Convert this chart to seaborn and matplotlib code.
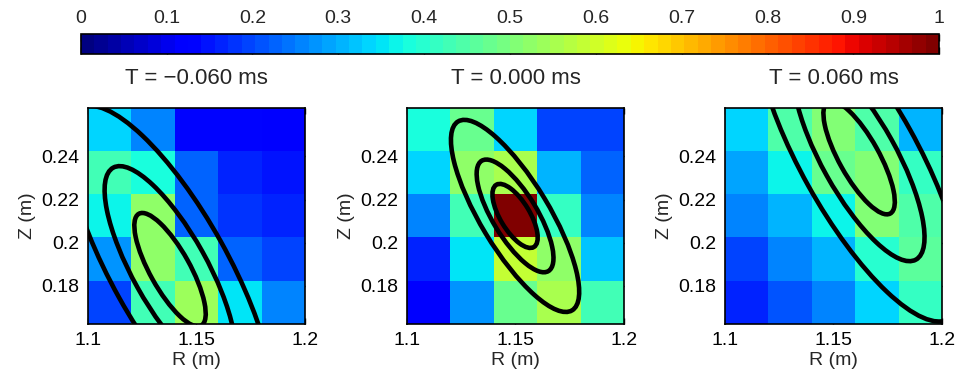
import numpy as np
import pandas as pd
import matplotlib
matplotlib.use("Agg")
import matplotlib.pyplot as plt
import seaborn as sns
from matplotlib.patches import Ellipse
from matplotlib.transforms import Affine2D

sns.set_style("white")
plt.rcParams["font.family"] = ["Liberation Sans", "DejaVu Sans"]

# ---------------- data ----------------
titles = ["T = \u22120.060 ms", "T = 0.000 ms", "T = 0.060 ms"]
R_centers = [1.11, 1.13, 1.15, 1.17, 1.19]            # cell centres (m)
Z_centers = [0.2525, 0.2325, 0.2125, 0.1925, 0.1725]  # top row first (m)
cell_size = 0.02
R_left = 1.10
Z_top = 0.2625

# normalised cell values, rows from top (high Z) to bottom
panel1 = [[0.33, 0.25, 0.14, 0.13, 0.11],
          [0.43, 0.38, 0.23, 0.16, 0.15],
          [0.37, 0.53, 0.23, 0.18, 0.16],
          [0.27, 0.53, 0.43, 0.22, 0.20],
          [0.19, 0.43, 0.54, 0.35, 0.26]]
panel2 = [[0.375, 0.47, 0.33, 0.20, 0.19],
          [0.33, 0.53, 0.56, 0.31, 0.23],
          [0.25, 0.43, 1.00, 0.41, 0.26],
          [0.17, 0.35, 0.58, 0.53, 0.32],
          [0.11, 0.28, 0.47, 0.55, 0.43]]
panel3 = [[0.34, 0.45, 0.50, 0.45, 0.31],
          [0.29, 0.37, 0.47, 0.51, 0.42],
          [0.25, 0.31, 0.37, 0.50, 0.45],
          [0.20, 0.25, 0.31, 0.40, 0.46],
          [0.16, 0.21, 0.25, 0.34, 0.41]]
panels = [panel1, panel2, panel3]

# fitted contour ellipses (centre, orientation, semi-axes per level)
ell_R = [1.1378, 1.1498, 1.1618]
ell_Z = [0.1875, 0.2124, 0.2394]
ell_angle = [-61, -59, -61]
ell_semi_major = [[0.0296, 0.0540, 0.0855],
                  [0.0168, 0.0298, 0.0510],
                  [0.0296, 0.0540, 0.0855]]
ell_semi_minor = [[0.0092, 0.0171, 0.0268],
                  [0.0068, 0.0103, 0.0158],
                  [0.0092, 0.0171, 0.0268]]

x_tick_vals = [1.1, 1.15, 1.2]
x_tick_labels = ["1.1", "1.15", "1.2"]
y_tick_vals = [0.18, 0.2, 0.22, 0.24]
y_tick_labels = ["0.18", "0.2", "0.22", "0.24"]
cb_ticks = [0, 0.1, 0.2, 0.3, 0.4, 0.5, 0.6, 0.7, 0.8, 0.9, 1]
cb_labels = ["0", "0.1", "0.2", "0.3", "0.4", "0.5", "0.6", "0.7", "0.8", "0.9", "1"]

# ---------------- figure ----------------
W, H = 957, 380
fig = plt.figure(figsize=(W / 100, H / 100), dpi=100)
cmap = matplotlib.colormaps["jet"].resampled(64)
FS = 14
FT = 16

def fx(px):
    return px / W

def fy(py):
    return 1 - py / H

ax_lefts = [88, 407, 725]
ax_w, ax_top, ax_bot = 217, 107.7, 323.7
cax = fig.add_axes([fx(80.7), fy(54), fx(858.6), 20 / H])

for i, vals in enumerate(panels):
    ax = fig.add_axes([fx(ax_lefts[i]), fy(ax_bot), fx(ax_w), (ax_bot - ax_top) / H])
    df = pd.DataFrame(vals, index=Z_centers, columns=R_centers)
    sns.heatmap(df, ax=ax, cmap=cmap, vmin=0, vmax=1, linewidths=0,
                cbar=(i == 0), cbar_ax=cax if i == 0 else None,
                cbar_kws=dict(orientation="horizontal", ticks=cb_ticks) if i == 0 else None,
                xticklabels=False, yticklabels=False)
    # physical (R, Z) -> heatmap cell coordinates
    to_cells = Affine2D().translate(-R_left, -Z_top).scale(1 / cell_size, -1 / cell_size)
    trans = to_cells + ax.transData
    for a, b in zip(ell_semi_major[i], ell_semi_minor[i]):
        e = Ellipse((ell_R[i], ell_Z[i]), 2 * a, 2 * b, angle=ell_angle[i],
                    transform=trans, fill=False, ec="black", lw=3.3)
        ax.add_patch(e)
    ax.set_xticks([(v - R_left) / cell_size for v in x_tick_vals])
    ax.set_xticklabels(x_tick_labels, fontsize=FS)
    ax.set_yticks([(Z_top - v) / cell_size for v in y_tick_vals])
    ax.set_yticklabels(y_tick_labels, fontsize=FS, rotation=0)
    ax.tick_params(direction="in", top=True, right=True, bottom=True, left=True,
                   length=4, width=1, color="black", labelcolor="black", pad=6)
    for s in ax.spines.values():
        s.set_visible(True)
        s.set_color("black")
        s.set_linewidth(1.2)
    ax.set_xlabel("R (m)", fontsize=FS, labelpad=2)
    ax.set_ylabel("Z (m)", fontsize=FS, labelpad=4)
    ax.set_title(titles[i], fontsize=FT, pad=17)

cb = fig.axes[1].collections[0].colorbar
cb.outline.set_linewidth(1.2)
cb.outline.set_edgecolor("black")
cax.xaxis.set_ticks(cb_ticks)
cax.xaxis.set_ticklabels(cb_labels)
cax.tick_params(axis="x", direction="in", top=True, bottom=True, labeltop=True,
                labelbottom=False, length=5, width=1, color="black",
                labelsize=FS, pad=5)

fig.savefig("out.png", dpi=100)
